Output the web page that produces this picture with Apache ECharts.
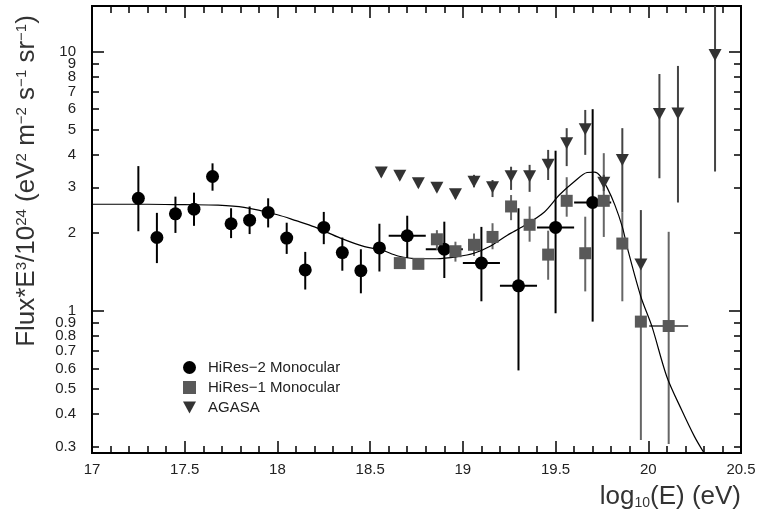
<!DOCTYPE html>
<html>
<head>
<meta charset="utf-8">
<script src="https://cdn.jsdelivr.net/npm/echarts@6/dist/echarts.min.js"></script>
<style>
  html, body { margin: 0; padding: 0; background: #fff; }
  #chart { width: 760px; height: 513px; }
</style>
</head>
<body>
<div id="chart"></div>
<script>
// HiRes-2 monocular (circles)
var hr2Energy = [17.25, 17.35, 17.45, 17.55, 17.65, 17.75, 17.85, 17.95, 18.05, 18.15, 18.25, 18.35, 18.45, 18.55, 18.7, 18.9, 19.1, 19.3, 19.5, 19.7];
var hr2Flux   = [2.72, 1.92, 2.37, 2.47, 3.30, 2.17, 2.24, 2.40, 1.91, 1.44, 2.10, 1.68, 1.43, 1.75, 1.95, 1.73, 1.53, 1.25, 2.10, 2.62];
var hr2Low    = [2.03, 1.53, 2.00, 2.13, 2.91, 1.91, 1.98, 2.10, 1.66, 1.21, 1.81, 1.43, 1.17, 1.42, 1.60, 1.34, 1.09, 0.59, 0.98, 0.91];
var hr2High   = [3.62, 2.39, 2.76, 2.86, 3.71, 2.49, 2.53, 2.72, 2.19, 1.69, 2.41, 1.92, 1.73, 2.17, 2.33, 2.21, 2.11, 2.49, 4.15, 6.00];
var hr2XErr   = [0, 0, 0, 0, 0, 0, 0, 0, 0, 0, 0, 0, 0, 0, 0.1, 0.1, 0.1, 0.1, 0.1, 0.1];

// HiRes-1 monocular (squares)
var hr1Energy = [18.66, 18.76, 18.86, 18.96, 19.06, 19.16, 19.26, 19.36, 19.46, 19.56, 19.66, 19.76, 19.86, 19.96, 20.11];
var hr1Flux   = [1.53, 1.52, 1.89, 1.70, 1.80, 1.93, 2.53, 2.15, 1.65, 2.66, 1.67, 2.66, 1.82, 0.91, 0.875];
var hr1Low    = [1.46, 1.46, 1.72, 1.55, 1.63, 1.73, 2.24, 1.85, 1.32, 2.31, 1.19, 1.93, 1.09, 0.318, 0.307];
var hr1High   = [1.60, 1.58, 2.05, 1.85, 1.99, 2.18, 2.80, 2.53, 2.04, 3.28, 2.31, 4.06, 2.40, 1.50, 2.02];
var hr1XErr   = [0, 0, 0, 0, 0, 0, 0, 0, 0, 0, 0, 0, 0, 0, 0.105];

// AGASA (triangles)
var agEnergy = [18.56, 18.66, 18.76, 18.86, 18.96, 19.06, 19.16, 19.26, 19.36, 19.46, 19.56, 19.66, 19.76, 19.86, 19.96, 20.06, 20.16, 20.36];
var agFlux   = [3.42, 3.32, 3.11, 2.99, 2.82, 3.15, 3.00, 3.31, 3.31, 3.66, 4.43, 5.02, 3.12, 3.82, 1.51, 5.75, 5.78, 9.71];
var agLow    = [3.30, 3.20, 3.00, 2.88, 2.72, 3.00, 2.75, 2.93, 2.88, 3.20, 3.62, 4.00, 2.90, 2.40, 1.51, 3.25, 2.62, 3.45];
var agHigh   = [3.55, 3.45, 3.22, 3.10, 2.92, 3.35, 3.20, 3.60, 3.66, 4.18, 5.07, 5.96, 3.35, 5.07, 2.45, 8.20, 8.81, 15.0];

// fit curve
var fitEnergy = [17.0, 17.1, 17.3, 17.5, 17.68, 17.82, 18.0, 18.1, 18.2, 18.34, 18.47, 18.56, 18.65, 18.76, 18.86, 18.97, 19.06, 19.15, 19.24, 19.33, 19.44, 19.52, 19.6, 19.67, 19.71, 19.74, 19.78, 19.82, 19.86, 19.89, 19.96, 20.02, 20.1, 20.18, 20.25, 20.3];
var fitFlux   = [2.58, 2.58, 2.58, 2.57, 2.56, 2.51, 2.35, 2.23, 2.11, 1.91, 1.77, 1.72, 1.63, 1.59, 1.59, 1.62, 1.67, 1.78, 1.96, 2.13, 2.41, 2.80, 3.15, 3.42, 3.43, 3.32, 2.97, 2.56, 2.11, 1.72, 1.135, 0.87, 0.558, 0.415, 0.327, 0.284];

// y ticks (flux, log axis drawn in log10 space)
var yLabelsA = [0.3, 0.4, 0.5, 0.6, 0.7, 0.8, 0.9, 1, 2, 3, 4, 5, 6, 7, 8, 10];
var yLabelsB = [9];
var yMajor = [1, 10];
var yMinor = [0.3, 0.4, 0.5, 0.6, 0.7, 0.8, 0.9, 2, 3, 4, 5, 6, 7, 8, 9];
var yMin = 0.2834, yMax = 15;

var FONT = 'Liberation Sans';
var lg = Math.log10;

function points(e, f) {
    return e.map(function (v, i) { return [v, lg(f[i])]; });
}

function errData(e, f, lo, hi, xe) {
    return e.map(function (v, i) {
        return [v, lg(lo[i]), lg(hi[i]), xe ? xe[i] : 0, lg(f[i])];
    });
}

function errRender(color) {
    return function (params, api) {
        var x = api.value(0);
        var p1 = api.coord([x, api.value(1)]);
        var p2 = api.coord([x, api.value(2)]);
        var st = { stroke: color, lineWidth: 2 };
        var kids = [{ type: 'line', shape: { x1: p1[0], y1: p1[1], x2: p2[0], y2: p2[1] }, style: st }];
        var xw = api.value(3);
        if (xw > 0) {
            var a = api.coord([x - xw, api.value(4)]);
            var b = api.coord([x + xw, api.value(4)]);
            kids.push({ type: 'line', shape: { x1: a[0], y1: a[1], x2: b[0], y2: b[1] }, style: st });
        }
        return { type: 'group', children: kids };
    };
}

var TRI = 'path://M0,0L12,0L6,11Z';

function xAxisCfg(pos, step, len, labels) {
    return {
        type: 'value', min: 17, max: 20.5, interval: step, position: pos,
        axisLine: { onZero: false, lineStyle: { color: '#000', width: 2 } },
        axisTick: { inside: true, length: len, lineStyle: { color: '#000', width: 1.5 } },
        splitLine: { show: false },
        axisLabel: labels ? { show: true, color: '#222', fontSize: 15, fontFamily: FONT, margin: 9, showMinLabel: true, showMaxLabel: true } : { show: false }
    };
}

function yAxisCfg(pos, ticks, len, labels) {
    return {
        type: 'value', min: lg(yMin), max: lg(yMax), position: pos,
        axisLine: { show: true, onZero: false, lineStyle: { color: '#000', width: 2 } },
        axisTick: { inside: true, length: len, customValues: ticks.map(lg), lineStyle: { color: '#000', width: 1.5 } },
        splitLine: { show: false },
        axisLabel: labels ? {
            show: true, customValues: labels.map(lg), color: '#222', fontSize: 15, fontFamily: FONT, margin: 16,
            showMinLabel: true, showMaxLabel: true, hideOverlap: false,
            formatter: function (v) { return String(+Math.pow(10, v).toFixed(1)); }
        } : { show: false }
    };
}

var dom = document.getElementById('chart');
var myChart = echarts.init(dom);
var option = {
    animation: false,
    backgroundColor: '#fff',
    grid: { left: 92, right: 19, top: 6, bottom: 60 },
    xAxis: [
        xAxisCfg('bottom', 0.5, 12, true),
        xAxisCfg('bottom', 0.1, 7, false),
        xAxisCfg('top', 0.5, 12, false),
        xAxisCfg('top', 0.1, 7, false)
    ],
    yAxis: [
        yAxisCfg('left', yMajor, 12, yLabelsA),
        yAxisCfg('left', yMinor, 7, yLabelsB),
        yAxisCfg('right', yMajor, 12, null),
        yAxisCfg('right', yMinor, 7, null)
    ],
    legend: {
        orient: 'vertical', left: 178, top: 355, itemGap: 5,
        itemWidth: 13, itemHeight: 13,
        textStyle: { color: '#222', fontSize: 15, fontFamily: FONT, lineHeight: 15, padding: [0, 0, 0, 7] },
        data: [
            { name: 'HiRes\u22122 Monocular', icon: 'circle' },
            { name: 'HiRes\u22121 Monocular', icon: 'rect' },
            { name: 'AGASA', icon: TRI }
        ]
    },
    graphic: [
        {
            type: 'text', x: 27, y: 181, rotation: Math.PI / 2,
            style: {
                text: 'Flux*E{s|3}/10{s|24} (eV{s|2} m{s|\u22122} s{s|\u22121} sr{s|\u22121})',
                font: '26px ' + FONT, fill: '#333', textAlign: 'center', textVerticalAlign: 'middle',
                rich: { s: { fontSize: 15, fontFamily: FONT, verticalAlign: 'top', lineHeight: 12, fill: '#333' } }
            }
        },
        {
            type: 'text', x: 741, y: 497,
            style: {
                text: 'log{s|10}(E) (eV)',
                font: '26px ' + FONT, fill: '#333', textAlign: 'right', textVerticalAlign: 'middle',
                rich: { s: { fontSize: 14, fontFamily: FONT, verticalAlign: 'bottom', lineHeight: 12, fill: '#333' } }
            }
        }
    ],
    series: [
        { name: 'err2', type: 'custom', renderItem: errRender('#000'), data: errData(hr2Energy, hr2Flux, hr2Low, hr2High, hr2XErr), encode: { x: 0, y: [1, 2] }, z: 1, silent: true },
        { name: 'err1', type: 'custom', renderItem: errRender('#666'), data: errData(hr1Energy, hr1Flux, hr1Low, hr1High, hr1XErr), encode: { x: 0, y: [1, 2] }, z: 1, silent: true },
        { name: 'errA', type: 'custom', renderItem: errRender('#444'), data: errData(agEnergy, agFlux, agLow, agHigh, null), encode: { x: 0, y: [1, 2] }, z: 1, silent: true },
        {
            name: 'fit', type: 'line', data: points(fitEnergy, fitFlux), showSymbol: false, smooth: 0.3,
            lineStyle: { color: '#000', width: 1.2 }, clip: true, z: 2, silent: true
        },
        { name: 'HiRes\u22122 Monocular', type: 'scatter', data: points(hr2Energy, hr2Flux), symbol: 'circle', symbolSize: 13, itemStyle: { color: '#000', opacity: 1 }, z: 3 },
        { name: 'HiRes\u22121 Monocular', type: 'scatter', data: points(hr1Energy, hr1Flux), symbol: 'rect', symbolSize: 12, itemStyle: { color: '#595959', opacity: 1 }, z: 3 },
        { name: 'AGASA', type: 'scatter', data: points(agEnergy, agFlux), symbol: TRI, symbolSize: [13, 12], itemStyle: { color: '#333', opacity: 1 }, z: 3 }
    ]
};

if (option && typeof option === "object") {
    myChart.setOption(option, true);
}
</script>
</body>
</html>
